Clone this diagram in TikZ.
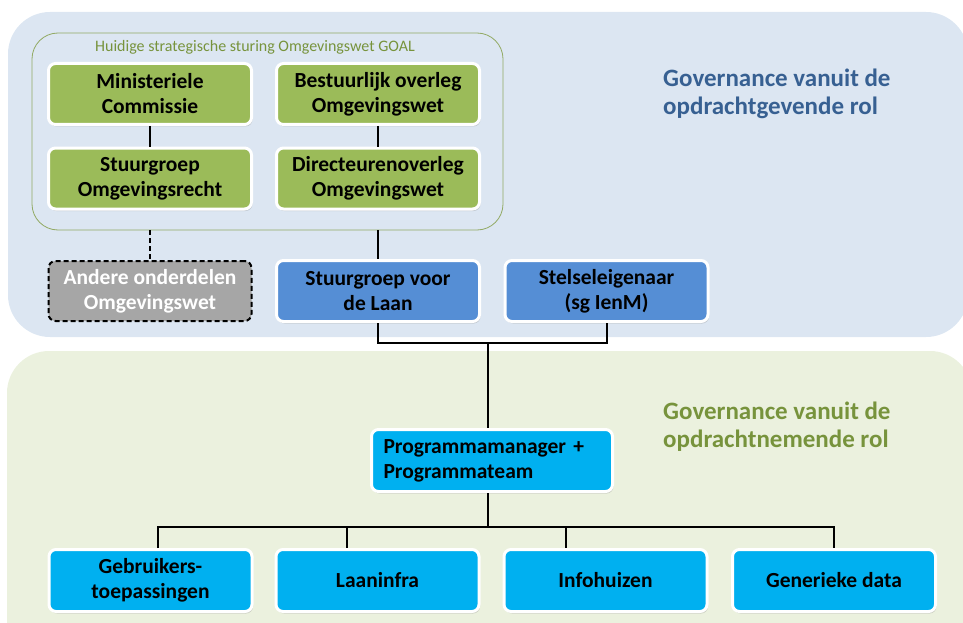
\documentclass[tikz,border=0pt]{standalone}
\usepackage{fontspec}
\setmainfont{Carlito}
\usetikzlibrary{shadows}
\definecolor{bgtop}{HTML}{DCE6F2}
\definecolor{bgbot}{HTML}{EBF1DE}
\definecolor{grn}{HTML}{9BBB59}
\definecolor{blu}{HTML}{558ED5}
\definecolor{cyanbox}{HTML}{00B0F0}
\definecolor{grayb}{HTML}{A6A6A6}
\definecolor{titleblue}{HTML}{376092}
\definecolor{olivetxt}{HTML}{77933C}
\begin{document}
\begin{tikzpicture}[x=1pt,y=-1pt,
  box/.style={draw=white, line width=3pt, rounded corners=7pt, minimum width=203pt,
    minimum height=61pt, align=center, inner sep=2pt,
    font=\fontsize{21.5}{25}\selectfont\bfseries,
    drop shadow={opacity=0.3, shadow xshift=1pt, shadow yshift=-2pt}},
  greenbox/.style={box, fill=grn},
  bluebox/.style={box, fill=blu},
  cyanb/.style={box, fill=cyanbox, minimum height=62pt},
  dashbox/.style={draw=black, line width=2pt, dash pattern=on 5pt off 3pt, rounded corners=7pt,
    fill=grayb, text=white, minimum width=203pt, minimum height=60pt, align=center,
    inner sep=2pt, font=\fontsize{21.5}{25}\selectfont\bfseries},
  conn/.style={line width=2pt, black},
  title/.style={anchor=west, align=left, inner sep=0pt, font=\fontsize{25}{28}\selectfont\bfseries}
]
\useasboundingbox (0,0) rectangle (963,623);
% backgrounds
\fill[bgtop, rounded corners=42pt] (8,12) rectangle (968,337);
\fill[bgbot, rounded corners=42pt] (7,351) rectangle (972,670);

% group box
\node[draw=olivetxt!80, line width=0.8pt, rounded corners=26pt, minimum width=471pt,
  minimum height=197pt] (goal) at (267.5,131.5) {};
\node[text=olivetxt, font=\fontsize{16}{18}\selectfont] (goallbl) at (255,47)
  {Huidige strategische sturing Omgevingswet GOAL};

\node[greenbox] (mc) at (150,94) {Ministeriele\\Commissie};
\node[greenbox] (bo) at (378,94) {Bestuurlijk overleg\\Omgevingswet};
\node[greenbox] (sg) at (150,178.5) {Stuurgroep\\Omgevingsrecht};
\node[greenbox] (do) at (378,178.5) {Directeurenoverleg\\Omgevingswet};

\node[dashbox] (andere) at (150,291) {Andere onderdelen\\Omgevingswet};
\node[bluebox] (sl) at (378,291) {Stuurgroep voor\\de Laan};
\node[bluebox] (se) at (606.5,291) {Stelseleigenaar\\(sg IenM)};

\node[title, text=titleblue] (t1) at (663,94) {Governance vanuit de\\opdrachtgevende rol};
\node[title, text=olivetxt] (t2) at (663,427) {Governance vanuit de\\opdrachtnemende rol};

\node[cyanb, minimum width=241pt, text width=217pt, inner xsep=12pt, align=left,
  minimum height=62pt] (pm) at (492,460.5) {Programmamanager +\\Programmateam};

\node[cyanb] (b1) at (150.5,580.5) {Gebruikers-\\toepassingen};
\node[cyanb] (b2) at (377.5,580.5) {Laaninfra};
\node[cyanb] (b3) at (605.5,580.5) {Infohuizen};
\node[cyanb] (b4) at (834,580.5) {Generieke data};

% connectors
\draw[conn] (mc.south) -- (sg.north);
\draw[conn] (bo.south) -- (do.north);
\draw[conn, dash pattern=on 5pt off 3pt] (andere.north |- goal.south) -- (andere.north);
\draw[conn] (sl.north |- goal.south) -- (sl.north);
\coordinate (j1) at (488,343);
\coordinate (j2) at (488,527);
\draw[conn] (sl.south) |- (j1) -| (se.south);
\draw[conn] (j1) -- (j1 |- pm.north);
\draw[conn] (j2 |- pm.south) -- (j2);
\coordinate (c1) at (158,527);
\coordinate (c2) at (347,527);
\coordinate (c3) at (566,527);
\coordinate (c4) at (834,527);
\draw[conn] (c1 |- b1.north) -- (c1) -- (c4) -- (c4 |- b4.north);
\draw[conn] (c2) -- (c2 |- b2.north);
\draw[conn] (c3) -- (c3 |- b3.north);
\end{tikzpicture}
\end{document}
